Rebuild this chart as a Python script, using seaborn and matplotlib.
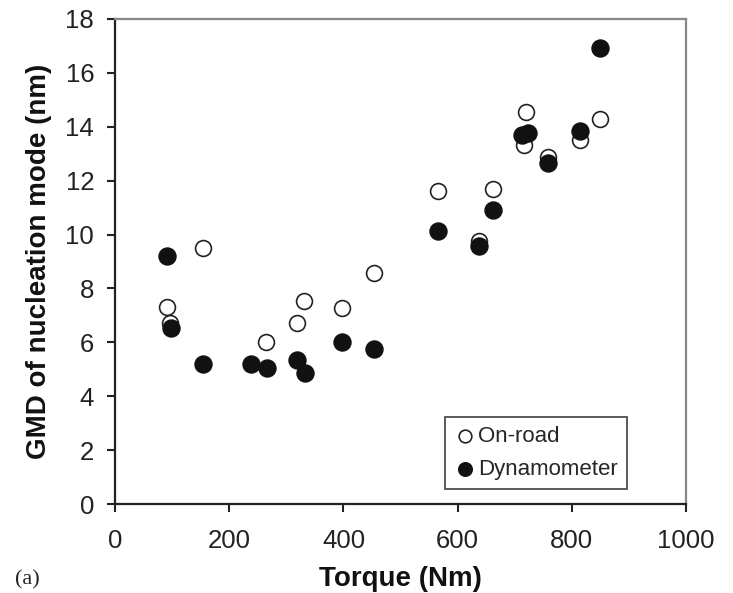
import pandas as pd
import matplotlib.pyplot as plt
import seaborn as sns

# On-road measurements
onroad_torque = [91, 97, 154, 265, 318, 331, 397, 453, 565, 637, 661, 716, 720, 759, 815, 850]
onroad_gmd = [7.30, 6.73, 9.51, 6.01, 6.71, 7.54, 7.29, 8.56, 11.62, 9.77, 11.68, 13.33, 14.54, 12.87, 13.51, 14.29]

# Dynamometer measurements
dyno_torque = [91, 98, 154, 238, 266, 319, 332, 397, 453, 565, 637, 661, 713, 723, 759, 815, 850]
dyno_gmd = [9.20, 6.52, 5.20, 5.20, 5.04, 5.35, 4.85, 6.01, 5.74, 10.15, 9.58, 10.91, 13.70, 13.78, 12.65, 13.86, 16.94]

x_ticks = [0, 200, 400, 600, 800, 1000]
y_ticks = [0, 2, 4, 6, 8, 10, 12, 14, 16, 18]


def main():
    sns.set_style("ticks")
    plt.rcParams['font.family'] = ['Liberation Sans', 'DejaVu Sans']

    df_road = pd.DataFrame({'torque': onroad_torque, 'gmd': onroad_gmd})
    df_dyno = pd.DataFrame({'torque': dyno_torque, 'gmd': dyno_gmd})

    fig = plt.figure(figsize=(7.33, 5.93), dpi=100)
    ax = fig.add_axes([0.157, 0.150, 0.779, 0.818])

    sns.scatterplot(data=df_road, x='torque', y='gmd', ax=ax, s=130,
                    facecolor='white', edgecolor='#222222', linewidth=1.2,
                    label='On-road', zorder=3)
    sns.scatterplot(data=df_dyno, x='torque', y='gmd', ax=ax, s=150,
                    color='#111111', edgecolor='#111111', linewidth=1.0,
                    label='Dynamometer', zorder=4)

    ax.set_xlim(0, 1000)
    ax.set_ylim(0, 18)
    ax.set_xticks(x_ticks)
    ax.set_yticks(y_ticks)
    ax.tick_params(axis='both', labelsize=18.5, length=6, width=1.5,
                   color='#222222', labelcolor='#222222')
    ax.tick_params(axis='x', pad=12)
    ax.tick_params(axis='y', pad=9)

    ax.set_xlabel('Torque (Nm)', fontsize=20, fontweight='bold', color='#111111', labelpad=9)
    ax.set_ylabel('GMD of nucleation mode (nm)', fontsize=20, fontweight='bold',
                  color='#111111', labelpad=10)

    for side in ['left', 'bottom']:
        ax.spines[side].set_color('#222222')
        ax.spines[side].set_linewidth(1.6)
    for side in ['top', 'right']:
        ax.spines[side].set_visible(True)
        ax.spines[side].set_color('#888888')
        ax.spines[side].set_linewidth(1.6)

    leg = ax.legend(loc='lower right', bbox_to_anchor=(0.896, 0.031),
                    borderaxespad=0, fontsize=16, frameon=True, fancybox=False,
                    markerscale=0.8, handletextpad=0.1, borderpad=0.4,
                    labelspacing=0.55, handlelength=1.0)
    leg.get_frame().set_edgecolor('#222222')
    leg.get_frame().set_linewidth(1.3)

    fig.text(0.02, 0.015, '(a)', fontsize=16, family=['Liberation Serif', 'DejaVu Serif'],
             color='#222222')

    plt.savefig("out.png", dpi=100)


if __name__ == "__main__":
    main()
